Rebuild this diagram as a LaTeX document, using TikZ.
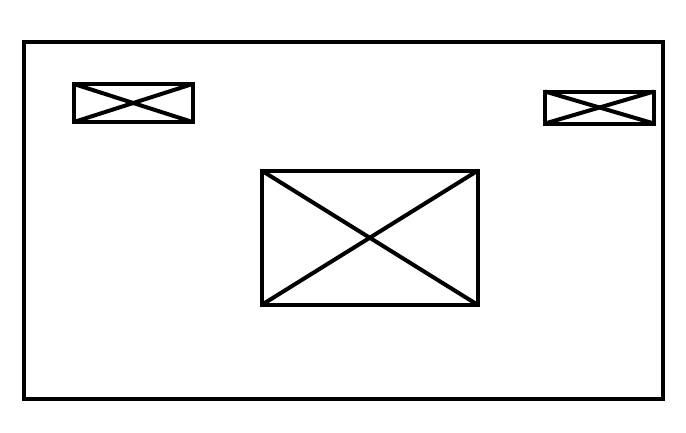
\documentclass[tikz,border=0pt]{standalone}
\usepackage{tikz}
\usetikzlibrary{positioning}

\begin{document}
\begin{tikzpicture}[x=1pt,y=-1pt]\begin{scope}[
    frame/.style={rectangle, draw, line width=4pt, inner sep=0pt, outer sep=0pt},
    cross/.style={draw, line width=4pt}
]
\useasboundingbox (0,0) rectangle (686,432);
% outer page frame
\node[frame, minimum width=639pt, minimum height=357.5pt] (page) at (343.5,220.25) {};
% placeholder boxes
\node[frame, minimum width=118.5pt, minimum height=38pt] (logol) at (133.25,103) {};
\node[frame, minimum width=109pt, minimum height=32pt] (logor) at (599.5,107.5) {};
\node[frame, minimum width=216.5pt, minimum height=134.5pt] (img) at (369.75,237.75) {};
% crosses
\foreach \b in {logol,logor,img}{
    \draw[cross] (\b.north west) -- (\b.south east);
    \draw[cross] (\b.south west) -- (\b.north east);
}\end{scope}
\end{tikzpicture}
\end{document}
